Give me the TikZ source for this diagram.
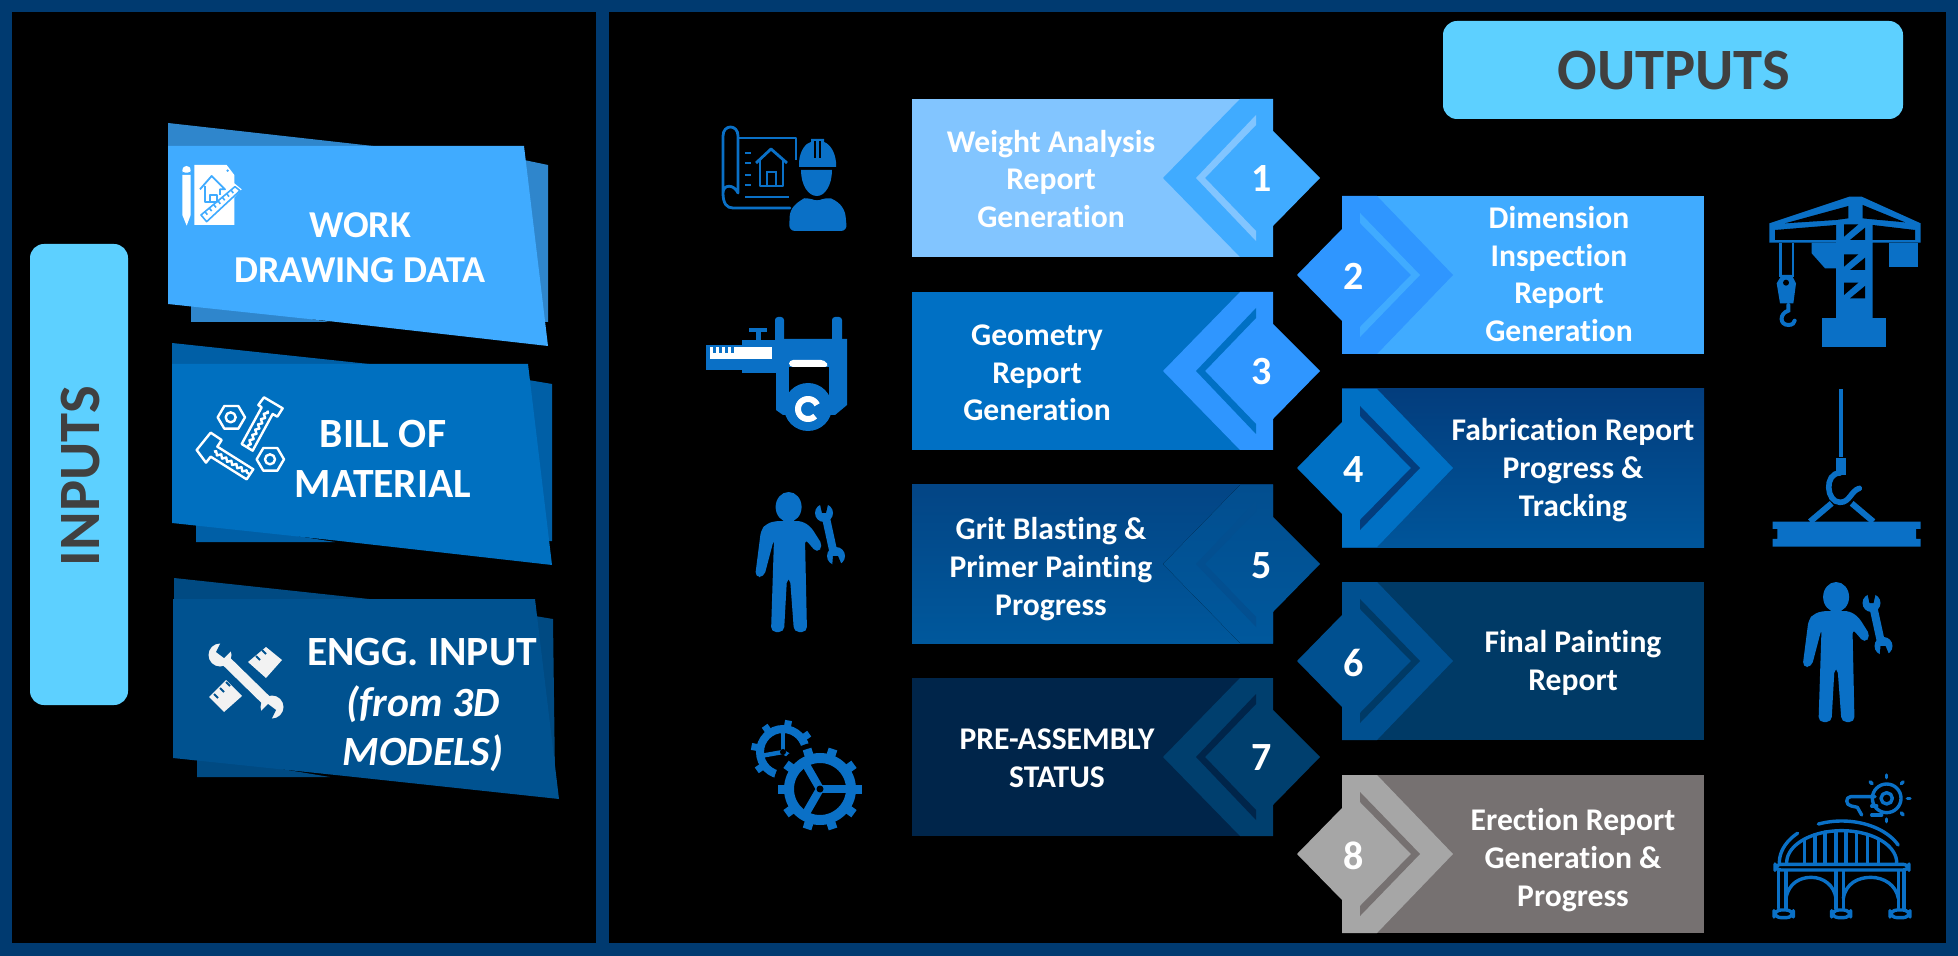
\documentclass[tikz,border=0pt]{standalone}
\usepackage{fontspec}
\setmainfont[Ligatures=NoCommon]{Carlito}
\usetikzlibrary{decorations.pathmorphing}
\definecolor{framec}{HTML}{003A70}
\definecolor{tagc}{HTML}{5DD0FF}
\definecolor{tagt}{HTML}{404040}
\definecolor{iconc}{HTML}{0A70C6}
\definecolor{aA}{HTML}{40ABFF}\definecolor{aB}{HTML}{2F86CC}
\definecolor{bA}{HTML}{0070C0}\definecolor{bB}{HTML}{005FA6}
\definecolor{cA}{HTML}{005290}\definecolor{cB}{HTML}{004A82}
\definecolor{m1}{HTML}{82C5FF}\definecolor{c1}{HTML}{40ABFF}
\definecolor{c2}{HTML}{2F96FF}
\definecolor{m3}{HTML}{0070C4}
\definecolor{HB}{HTML}{033D7D}\definecolor{HC}{HTML}{00559A}
\definecolor{HD}{HTML}{034585}\definecolor{HE}{HTML}{00589C}
\definecolor{HF}{HTML}{024E8F}\definecolor{HG}{HTML}{034F90}
\definecolor{m6}{HTML}{003A66}\definecolor{c6}{HTML}{005090}
\definecolor{m7}{HTML}{00254A}\definecolor{c7}{HTML}{003F6E}
\definecolor{m8}{HTML}{767171}\definecolor{c8}{HTML}{A6A6A6}
\definecolor{offw}{HTML}{F2F2F2}
\tikzset{
  x=0.5pt,y=-0.5pt,
  every node/.style={inner sep=0pt,outer sep=0pt,text=white,align=center,font=\bfseries},
  tagbox/.style={fill=tagc,rounded corners=7pt},
  tagtext/.style={text=tagt,font=\bfseries\fontsize{29.3}{34}\selectfont},
  inlabel/.style={font=\bfseries\fontsize{19}{22.5}\selectfont},
  inlabelb/.style={font=\bfseries\fontsize{20.8}{25}\selectfont},
  inlabelit/.style={font=\bfseries\itshape\fontsize{20.8}{24.5}\selectfont},
  outlabel/.style={font=\bfseries\fontsize{15.8}{18.8}\selectfont},
  numlabel/.style={font=\bfseries\fontsize{20}{24}\selectfont},
  bline/.style={draw=iconc,line width=1.7pt,line cap=round,line join=round},
  wline/.style={draw=white,line width=1.2pt,line join=round},
}
\newcommand{\oddbox}[4]{% ytop, main fill, chevron fill, band
  \begin{scope}[shift={(0,#1)}]
    \fill[#2] (912,0) -- (1273,0) -- (1273,158) -- (912,158) -- cycle;
    \fill[#3] (1240,0) -- (1273,0) -- (1273,32) -- (1320,79) -- (1273,127) -- (1273,158) -- (1240,158) -- (1163,79) -- cycle;
    \fill[#4] (1256,16) -- (1196,79) -- (1256,142) -- (1256,132) -- (1205,79) -- (1256,26) -- cycle;
  \end{scope}}
\newcommand{\evenbox}[4]{%
  \begin{scope}[shift={(0,#1)}]
    \fill[#2] (1342,0) -- (1704,0) -- (1704,158) -- (1342,158) -- cycle;
    \fill[#3] (1377,0) -- (1342,0) -- (1342,33) -- (1297,79) -- (1342,125) -- (1342,158) -- (1377,158) -- (1453,79) -- cycle;
    \fill[#4] (1360,17) -- (1420,79) -- (1360,141) -- (1360,131) -- (1411,79) -- (1360,27) -- cycle;
  \end{scope}}
\newcommand{\personicon}[2]{%
  \begin{scope}[shift={(#1,#2)}]
    \fill[iconc] (788.6,507) ellipse [x radius=13,y radius=15];
    \fill[iconc,rounded corners=2.5pt] (775,521) -- (802,521) -- (811,527) -- (823,546) -- (817,553) -- (805,539) -- (807,632) -- (794,632) -- (790,578) -- (787,578) -- (784,632) -- (771,632) -- (774,539) -- (764,577) -- (755,577) -- (761,530) -- (766,524) -- cycle;
    \draw[iconc,line width=4pt] (826,518) -- (833,550);
    \fill[iconc] (824,513) circle [radius=9];
    \fill[iconc] (836,556) circle [radius=9];
    \fill[black] (819,500) -- (829,500) -- (826,513) -- (822,513) -- cycle;
    \fill[black] (833,556) -- (838,556) -- (843,568) -- (832,568) -- cycle;
  \end{scope}}
\newcommand{\gearicon}[8]{% cx cy outer ringmid ringw teeth toothw spoke-rot
  \draw[iconc,line width=#5*0.5pt] (#1,#2) circle [radius=#4];
  \foreach \k in {1,...,#6}{
    \pgfmathsetmacro{\ang}{360/#6*\k+#8}
    \draw[iconc,line width=#7*0.5pt] ({#1+#4*cos(\ang)},{#2+#4*sin(\ang)}) -- ({#1+#3*cos(\ang)},{#2+#3*sin(\ang)});
  }}
\begin{document}
\begin{tikzpicture}
\useasboundingbox (0,0) rectangle (1958,956);
\fill[black] (0,0) rectangle (1958,956);
% frames
\fill[framec] (0,0) rectangle (1958,12);
\fill[framec] (0,943) rectangle (1958,956);
\fill[framec] (0,0) rectangle (12,956);
\fill[framec] (596,0) rectangle (609,956);
\fill[framec] (1946,0) rectangle (1958,956);
% tags
\fill[tagbox] (30,244) rectangle (128,705);
\node[tagtext,rotate=90] (inputs) at (80,476) {INPUTS};
\fill[tagbox] (1443,21) rectangle (1903,119);
\node[tagtext] (outputs) at (1674,71) {OUTPUTS};
% input card 1
\fill[aB] (168,123) -- (373,146) -- (168,146) -- cycle;
\fill[aB] (524,160) -- (548,165) -- (548,322) -- (535,322) -- cycle;
\fill[aB] (191,300) -- (191,322) -- (330,322) -- cycle;
\fill[aA] (168,146) -- (524,146) -- (548,346) -- (337,322) -- (168,304) -- cycle;
\node[inlabel] (card1) at (360,248) {WORK\\DRAWING DATA};
% input card 2
\fill[bB] (172,343) -- (369,364) -- (172,364) -- cycle;
\fill[bB] (528,380) -- (552,384) -- (552,541) -- (535,541) -- cycle;
\fill[bB] (196,520) -- (196,542) -- (335,542) -- cycle;
\fill[bA] (172,364) -- (528,364) -- (552,565) -- (340,541) -- (172,523) -- cycle;
\node[inlabelb] (card2) at (383,459) {BILL OF\\MATERIAL};
% input card 3
\fill[cB] (174,578) -- (369,599) -- (174,599) -- cycle;
\fill[cB] (535,616) -- (553,619) -- (555,777) -- (535,777) -- cycle;
\fill[cB] (197,755) -- (197,777) -- (330,777) -- cycle;
\fill[cA] (173,599) -- (535,599) -- (559,799) -- (345,776) -- (173,758) -- cycle;
\node[inlabelb] (card3a) at (422,652) {ENGG. INPUT};
\node[inlabelit] (card3b) at (423,729) {(from 3D\\MODELS)};
% input icon 1
\begin{scope}[shift={(175,160)},scale=1/3]
  \fill[white,rounded corners=1.5pt] (22,30) -- (26,18) -- (43,18) -- (47,30) -- (47,38) -- (22,38) -- cycle;
  \fill[white] (22,45) -- (47,45) -- (47,165) -- (35,197) -- (22,165) -- cycle;
  \fill[white] (58,15) -- (155,15) -- (178,45) -- (178,70) -- (200,88) -- (178,112) -- (178,195) -- (58,195) -- cycle;
  \fill[aA] (158,32) circle [radius=4];
  \draw[aA,line width=.9pt,line join=round] (75,88) -- (110,48) -- (150,88) -- (135,88) -- (135,105);
  \draw[aA,line width=.9pt,line join=round] (90,78) -- (90,125) -- (125,125) -- (125,105) -- (105,105) -- (105,125);
  \draw[aA,line width=.8pt,line join=round] (78,165) -- (180,80) -- (195,92) -- (95,185) -- cycle;
  \foreach \t in {0,...,6}{
    \draw[aA,line width=.8pt] ({90+\t*13},{155-\t*10.8}) -- ({97+\t*13},{164-\t*10.8});
  }
\end{scope}
% input icon 2
\begin{scope}[shift={(190,390)},scale=1/3]
  \draw[wline] (103,48) -- (145,48) -- (165,82) -- (145,116) -- (103,116) -- (83,82) -- cycle;
  \draw[wline] (122,82) circle [radius=15];
  \draw[wline] (220,174) -- (262,174) -- (282,208) -- (262,242) -- (220,242) -- (200,208) -- cycle;
  \draw[wline] (240,208) circle [radius=15];
  \draw[wline] (222,22) -- (278,55) -- (262,80) -- (248,72) -- (188,182) -- (155,162) -- (215,52) -- (205,45) -- cycle;
  \draw[wline,decorate,decoration={zigzag,segment length=3pt,amplitude=.8pt}] (232,62) -- (172,172);
  \draw[wline] (62,128) -- (95,150) -- (82,170) -- (190,238) -- (170,268) -- (62,200) -- (48,218) -- (20,180) -- cycle;
  \draw[wline,decorate,decoration={zigzag,segment length=3pt,amplitude=.8pt}] (72,185) -- (178,252);
\end{scope}
% input icon 3
\fill[offw] (266,647) -- (282,660) -- (266,678) -- (248,662) -- cycle;
\fill[offw] (226,680) -- (242,696) -- (224,712) -- (209,697) -- cycle;
\foreach \d in {0,6,12}{
  \draw[cA,line width=1pt] ({256+\d},{656-\d}) -- ({260+\d},{660-\d});
  \draw[cA,line width=1pt] ({214+\d},{694-\d}) -- ({218+\d},{698-\d});
}
\draw[offw,line width=5.2pt] (224,659) -- (268,702);
\fill[offw] (220,655) circle [radius=11.5];
\fill[offw] (272,707) circle [radius=11.5];
\fill[cA] (222,640) -- (232,650) -- (224,658) -- (216,652) -- cycle;
\fill[cA] (270,722) -- (260,712) -- (268,704) -- (276,710) -- cycle;
% output boxes
\oddbox{99}{m1}{c1}{m1}
\evenbox{196}{c1}{c2}{c1}
\oddbox{292}{m3}{c2}{m3}
\evenbox{389}{top color=HB,bottom color=HC}{m3}{HB}
\oddbox{485}{top color=HD,bottom color=HE}{top color=HF,bottom color=HE}{HG}
\evenbox{582}{m6}{c6}{m6}
\oddbox{678}{m7}{c7}{m7}
\evenbox{775}{m8}{c8}{m8}
% numbers
\node[numlabel] (n1) at (1262,179) {1};
\node[numlabel] (n2) at (1354,276) {2};
\node[numlabel] (n3) at (1262,372) {3};
\node[numlabel] (n4) at (1354,470) {4};
\node[numlabel] (n5) at (1262,566) {5};
\node[numlabel] (n6) at (1354,663) {6};
\node[numlabel] (n7) at (1262,758) {7};
\node[numlabel] (n8) at (1354,856) {8};
% output labels
\node[outlabel] (t1) at (1051,179) {Weight Analysis\\Report\\Generation};
\node[outlabel] (t2) at (1559,274) {Dimension\\Inspection\\Report\\Generation};
\node[outlabel] (t3) at (1037,373) {Geometry\\Report\\Generation};
\node[outlabel] (t4) at (1573,470) {Fabrication Report\\Progress \&\\Tracking};
\node[outlabel] (t5) at (1051,569) {Grit Blasting \&\\Primer Painting\\Progress};
\node[outlabel] (t6) at (1573,663) {Final Painting\\Report};
\node[outlabel] (t7) at (1057,758) {PRE-ASSEMBLY\\STATUS};
\node[outlabel] (t8) at (1573,860) {Erection Report\\Generation \&\\Progress};
% blueprint + engineer
\draw[iconc,line width=1.4pt,line cap=round,line join=round] (723,193) -- (723,136) .. controls (723,124) and (738,124) .. (738,136) -- (738,193) .. controls (734,184) and (723,184) .. (723,193) .. controls (723,204) and (727,208) .. (733,208) -- (790,208);
\draw[iconc,line width=1.4pt,line join=round] (738,138) -- (796,138) -- (796,160);
\draw[iconc,line width=1.4pt,line join=round] (756,163) -- (771,149) -- (787,163);
\draw[iconc,line width=1.3pt,line join=round] (760,160) -- (760,186) -- (783,186) -- (783,160);
\draw[iconc,line width=1.3pt] (767,186) -- (767,172) -- (776,172) -- (776,186);
\foreach \yy in {153,163,175,185} \draw[iconc,line width=1.3pt] (745,\yy) -- (751,\yy);
\draw[iconc,line width=1.4pt] (745,197) -- (789,197);
\fill[iconc] (799,167) -- (799,162) .. controls (800,150) and (806,143) .. (811,142) -- (811,139) -- (824,139) -- (824,142) .. controls (830,144) and (835,152) .. (836,162) -- (836,167) -- cycle;
\fill[black] (814,141) rectangle (816,158);
\fill[black] (819,141) rectangle (821,158);
\fill[iconc] (801,170) -- (832,170) .. controls (832,185) and (825,196) .. (817,196) .. controls (808,196) and (801,185) .. (801,170) -- cycle;
\fill[iconc,rounded corners=3pt] (789,231) -- (790,210) -- (800,200) -- (808,197) -- (817,202) -- (826,197) -- (836,200) -- (845,210) -- (847,231) -- cycle;
% caliper
\fill[iconc] (706,345) rectangle (776,370);
\fill[iconc] (742,340) rectangle (776,373);
\fill[iconc] (749,328) rectangle (767,332);
\fill[iconc] (756,332) rectangle (761,340);
\fill[iconc,rounded corners=1.5pt] (775,346) -- (775,317) -- (784,317) -- (784,346) -- cycle;
\fill[iconc,rounded corners=1.5pt] (832,346) -- (832,317) -- (842,317) -- (842,346) -- cycle;
\fill[iconc] (776,339) -- (847,339) -- (847,405) -- (835,415) -- (783,415) -- (776,410) -- cycle;
\fill[black] (789,367) rectangle (829,395);
\fill[white,rounded corners=2pt] (789,360) -- (825,360) -- (829,367) -- (789,367) -- cycle;
\fill[iconc] (808,407) circle [radius=24];
\fill[white] (710,347) rectangle (772,359);
\foreach \xx in {713,719,725,731} \fill[iconc] (\xx,347) rectangle ({\xx+3},353);
\draw[white,line width=3pt] plot[domain=45:335,samples=30,smooth] ({808+10*cos(\x)},{409+10*sin(\x)});
% person 1, person 2
\personicon{0}{0}
\personicon{1047.5}{90}
% gears
\gearicon{783}{752}{32}{23}{8}{8}{7}{10}
\foreach \a in {270,170,30} \draw[iconc,line width=2.2pt] (783,752) -- ({783+23*cos(\a)},{752+23*sin(\a)});
\fill[black] (783,752) circle [radius=3];
\fill[black] (820,789) circle [radius=47];
\gearicon{820}{789}{42}{31}{10}{10}{9}{0}
\foreach \a in {0,120,240} \draw[iconc,line width=4pt] (820,789) -- ({820+31*cos(\a)},{789+31*sin(\a)});
\fill[black] (820,789) circle [radius=3.5];
% crane
\begin{scope}[shift={(1760,190)},scale=1/3]
  \fill[iconc] (28,100) -- (268,20) -- (305,20) -- (482,100) -- (482,158) -- (338,158) -- (338,385) -- (228,385) -- (228,158) -- (28,158) -- cycle;
  \fill[black] (75,100) -- (265,48) -- (265,85) -- (228,90) -- cycle;
  \fill[black] (435,97) -- (308,45) -- (308,85) -- (338,88) -- cycle;
  \fill[black] (45,120) -- (228,105) -- (228,150) -- (45,150) -- cycle;
  \fill[black] (338,105) -- (465,120) -- (465,150) -- (338,150) -- cycle;
  \foreach \dy in {0,90,175}{
    \fill[black] (252,{103+\dy}) -- (295,{103+\dy}) -- (252,{140+\dy}) -- cycle;
    \fill[black] (315,{113+\dy}) -- (315,{150+\dy}) -- (270,{150+\dy}) -- cycle;
  }
  \fill[iconc] (388,158) rectangle (475,232);
  \fill[iconc] (155,158) -- (228,158) -- (228,235) -- (195,235) -- (155,190) -- cycle;
  \fill[iconc] (187,385) rectangle (378,470);
  \fill[iconc] (58,158) rectangle (65,260);
  \fill[iconc] (95,158) rectangle (102,260);
  \fill[iconc] (50,280) -- (65,255) -- (95,255) -- (108,280) -- (100,340) -- (60,340) -- cycle;
  \fill[black] (78,278) circle [radius=9];
  \draw[iconc,line width=2pt,line cap=round] (85,345) -- (85,362) .. controls (58,370) and (58,405) .. (85,405) .. controls (98,405) and (103,398) .. (104,392);
\end{scope}
% hook with beam
\begin{scope}[shift={(1760,385)},scale=1/3]
  \fill[iconc] (236,12) rectangle (250,215);
  \fill[iconc] (228,220) rectangle (258,270);
  \draw[iconc,line width=3pt] (215,355) -- (150,410);
  \draw[iconc,line width=3pt] (275,355) -- (340,410);
  \draw[iconc,line width=2.8pt,line cap=round] (240,264) .. controls (192,264) and (198,352) .. (240,352) .. controls (270,352) and (272,318) .. (298,310);
  \fill[iconc] (38,410) -- (482,410) -- (482,432) -- (468,432) -- (468,462) -- (482,462) -- (482,485) -- (38,485) -- (38,462) -- (52,462) -- (52,432) -- (38,432) -- cycle;
\end{scope}
% bridge
\begin{scope}[shift={(1760,770)},scale=1/3]
  \draw[bline] plot[domain=180:135,samples=12,smooth] ({245+187*cos(\x)},{278-125*sin(\x)});
  \draw[bline] plot[domain=112:25,samples=24,smooth] ({245+187*cos(\x)},{278-125*sin(\x)});
  \draw[bline] plot[domain=180:0,samples=40,smooth] ({245+165*cos(\x)},{278-96*sin(\x)});
  \foreach \xx/\yy in {133/208,165/194,195/186,228/183,258/183,290/186,322/193,355/206} \draw[bline] (\xx,\yy) -- (\xx,278);
  \draw[bline,rounded corners=3pt] (45,283) rectangle (447,300);
  \foreach \xx in {55,78,228,250,415,432} \draw[bline] (\xx,304) -- (\xx,415);
  \draw[bline] (78,385) .. controls (85,340) and (120,322) .. (153,322) .. controls (190,322) and (222,345) .. (228,385);
  \draw[bline] (250,385) .. controls (257,340) and (295,322) .. (332,322) .. controls (372,322) and (408,345) .. (415,385);
  \draw[bline,rounded corners=3.5pt] (42,420) rectangle (100,443);
  \draw[bline,rounded corners=3.5pt] (215,420) rectangle (272,443);
  \draw[bline,rounded corners=3.5pt] (390,420) rectangle (450,443);
  \draw[bline] (380,85) circle [radius=43];
  \draw[bline] (380,85) circle [radius=17];
  \foreach \a in {-90,-45,0,45,90,-135}{
    \draw[bline] ({380+62*cos(\a)},{85+62*sin(\a)}) -- ({380+70*cos(\a)},{85+70*sin(\a)});
  }
  \draw[bline] (345,80) -- (272,80) .. controls (256,80) and (256,106) .. (274,108) -- (292,112) -- (305,135);
  \draw[bline] (335,135) -- (365,135);
  \draw[bline] (335,108) -- (350,108);
\end{scope}
\end{tikzpicture}
\end{document}
